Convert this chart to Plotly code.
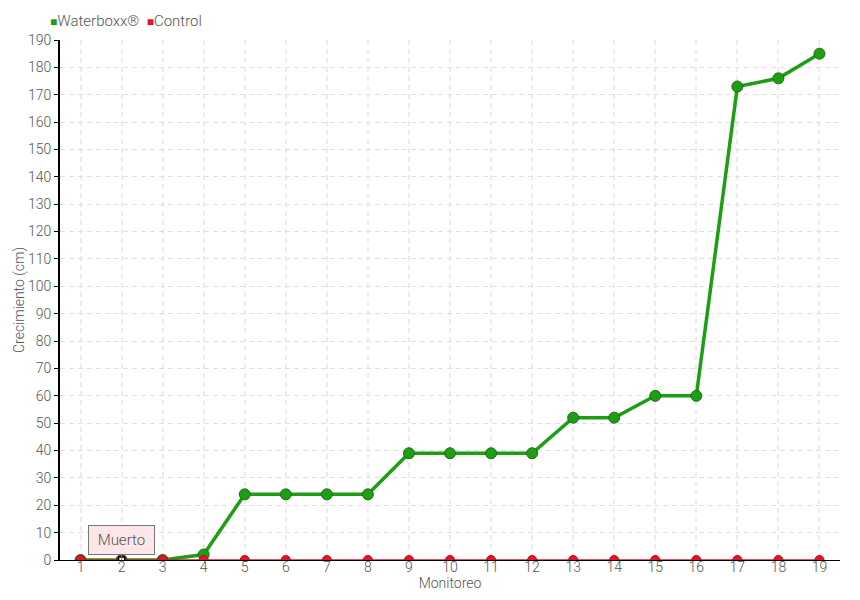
import plotly.graph_objects as go

monitoreo = list(range(1, 20))
waterboxx = [0, 0, 0, 2, 24, 24, 24, 24, 39, 39, 39, 39, 52, 52, 60, 60, 173, 176, 185]
control = [0] * 19
muerto_x = [2]
muerto_y = [0]
y_ticks = list(range(0, 200, 10))
series_names = ["Waterboxx®", "Control"]

FONT = dict(family="Roboto", weight=300, size=14, color="#555")
GREEN = "#1e9e14"
RED = "#e8112d"

fig = go.Figure()
fig.add_trace(go.Scatter(
    x=monitoreo, y=waterboxx, name=series_names[0], mode="lines+markers",
    line=dict(color=GREEN, width=3.5),
    marker=dict(color=GREEN, size=11, line=dict(color="#1a6e12", width=1)),
))
fig.add_trace(go.Scatter(
    x=monitoreo, y=control, name=series_names[1], mode="lines+markers",
    line=dict(color=RED, width=1.5),
    marker=dict(color=RED, size=9, line=dict(color="#b00a1e", width=1)),
))
fig.add_trace(go.Scatter(
    x=muerto_x, y=muerto_y, mode="markers", showlegend=False,
    marker=dict(symbol="square", color="white", size=6, line=dict(color="black", width=1.5)),
))
fig.add_annotation(
    x=muerto_x[0], y=muerto_y[0], text=" Muerto ", showarrow=True,
    arrowhead=0, arrowwidth=1, arrowcolor="#777", ax=0, ay=-20,
    bgcolor="#fde6e8", bordercolor="#777", borderwidth=1, borderpad=5,
    font=dict(FONT, size=15),
)
# legend built as text
legend_text = (
    f"<span style='color:{GREEN};font-size:12px'>■</span>{series_names[0]}  "
    f"<span style='color:{RED};font-size:12px'>■</span>{series_names[1]}"
)
fig.add_annotation(
    xref="paper", yref="paper", x=-0.016, y=1.0, yshift=19, xanchor="left", yanchor="middle",
    text=legend_text, showarrow=False, font=dict(FONT, size=15),
)

fig.update_layout(
    width=860, height=600,
    margin=dict(l=52, r=28, t=32, b=48),
    plot_bgcolor="white", paper_bgcolor="white",
    font=FONT,
    showlegend=False,
    xaxis=dict(
        range=[0.5, 19.5], tickmode="array", tickvals=monitoreo,
        showline=True, linecolor="black", linewidth=1,
        showgrid=True, gridcolor="#ececec", griddash="5px,4px", gridwidth=2,
        zeroline=False, ticks="", ticklabelstandoff=-6, automargin=False,
        title=dict(text="Monitoreo", standoff=0, font=FONT),
    ),
    yaxis=dict(
        range=[0, 190], tickmode="array", tickvals=y_ticks,
        showline=True, linecolor="black", linewidth=2,
        showgrid=True, gridcolor="#e0e0e0", griddash="5px,4px", gridwidth=1,
        zeroline=False, ticks="outside", ticklen=4, tickcolor="black", automargin=False,
        title=dict(text="Crecimiento (cm)", standoff=0, font=FONT),
    ),
)
fig.write_html("out.html")
